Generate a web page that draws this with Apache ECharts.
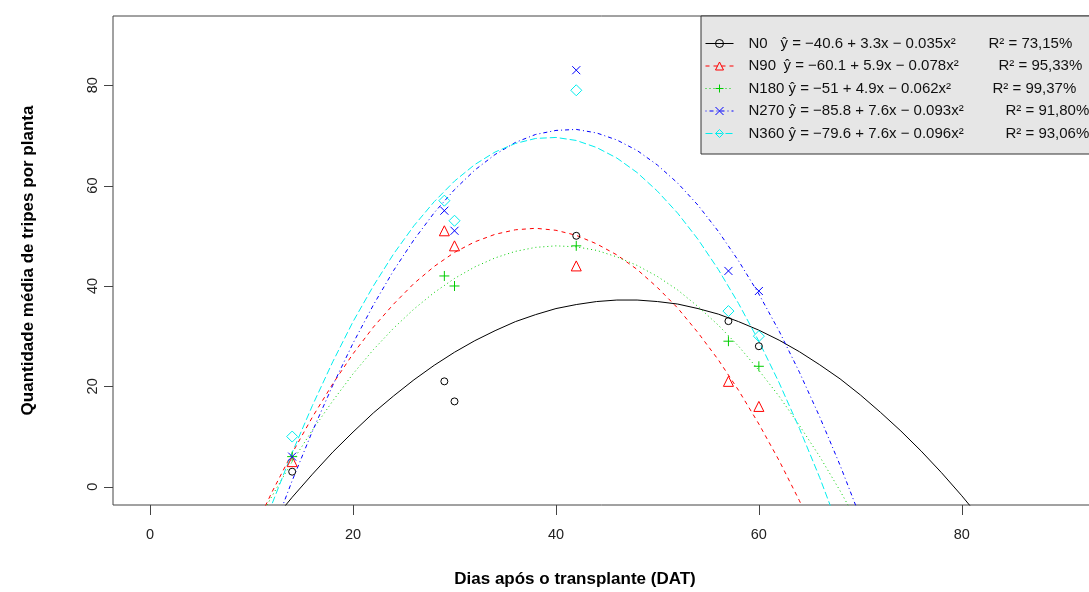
<!DOCTYPE html>
<html><head><meta charset="utf-8">
<script src="https://cdn.jsdelivr.net/npm/echarts@6/dist/echarts.min.js"></script>
<style>html,body{margin:0;padding:0;background:#fff}#c{width:1089px;height:592px}</style>
</head><body><div id="c"></div>
<script>
// ---- data ----
const seriesNames = ['N0', 'N90', 'N180', 'N270', 'N360'];
const obsX = [14, 29, 30, 42, 57, 60];
const obsN0   = [3, 21, 17, 50, 33, 28];
const obsN90  = [5, 51, 48, 44, 21, 16];
const obsN180 = [6, 42, 40, 48, 29, 24];
const obsN270 = [6, 55, 51, 83, 43, 39];
const obsN360 = [10, 57, 53, 79, 35, 30];

const fitX = [10,12,14,16,18,20,22,24,26,28,30,32,34,36,38,40,42,44,46,48,50,52,54,56,58,60,62,64,66,68,70,72,74,76,78,80,82];
const fitN0   = ['-',-7.0,-2.1,2.5,6.9,10.9,14.7,18.1,21.3,24.2,26.8,29.1,31.1,32.9,34.3,35.5,36.3,36.9,37.2,37.2,36.9,36.4,35.5,34.4,32.9,31.2,29.2,26.9,24.3,21.5,18.3,14.8,11.1,7.1,2.8,-1.8,-6.7];
const fitN90  = [-9.6,-1.1,6.7,13.9,20.5,26.5,31.8,36.4,40.5,43.9,46.7,48.8,50.3,51.2,51.5,51.1,50.1,48.4,46.2,43.3,39.7,35.6,30.7,25.3,19.2,12.5,5.2,-2.8,-11.4,'-','-','-','-','-','-','-','-'];
const fitN180 = [-9.2,-1.9,5.0,11.3,17.1,22.5,27.3,31.6,35.4,38.7,41.5,43.8,45.6,46.9,47.7,48.0,47.8,47.1,45.8,44.1,41.9,39.2,35.9,32.2,28.0,23.2,18.0,12.2,6.0,-0.8,-8.1,'-','-','-','-','-','-'];
const fitN270 = ['-',-9.4,1.2,11.1,20.2,28.6,36.2,43.1,49.2,54.6,59.2,63.1,66.2,68.6,70.2,71.0,71.2,70.5,69.1,67.0,64.1,60.5,56.1,50.9,45.0,38.4,31.0,22.8,13.9,4.3,-6.1,'-','-','-','-','-','-'];
const fitN360 = [-14.5,-3.5,6.8,16.2,24.9,32.9,40.0,46.4,52.0,56.8,60.9,64.2,66.7,68.4,69.4,69.6,69.0,67.6,65.5,62.6,58.9,54.5,49.3,43.3,36.5,29.0,20.7,11.6,1.8,-8.9,'-','-','-','-','-','-','-'];

const equations = [
  'ŷ = −40.6 + 3.3x − 0.035x²',
  'ŷ = −60.1 + 5.9x − 0.078x²',
  'ŷ = −51 + 4.9x − 0.062x²',
  'ŷ = −85.8 + 7.6x − 0.093x²',
  'ŷ = −79.6 + 7.6x − 0.096x²'
];
const r2Labels = ['R² = 73,15%', 'R² = 95,33%', 'R² = 99,37%', 'R² = 91,80%', 'R² = 93,06%'];
const xTicks = [0, 20, 40, 60, 80];
const yTicks = [0, 20, 40, 60, 80];
const xTitle = 'Dias após o transplante (DAT)';
const yTitle = 'Quantidade média de tripes por planta';

// ---- styles ----
const FONT = '"Liberation Sans", Arial, sans-serif';
const X_MIN = -3.66, X_MAX = 95.2, Y_MIN = -3.64, Y_MAX = 93.8;
const colors = ['#000000', '#ff0000', '#00cd00', '#0000ff', '#00eeee'];
const dashes = ['solid', [4, 4], [1, 3], [1, 3, 4, 3], [7, 3]];
const symbols = ['circle', 'triangle', 'path://M5,0L5,10M0,5L10,5', 'path://M0,0L10,10M0,10L10,0', 'diamond'];
const openFill = [true, true, false, false, true];
const symSizes = [7, 10, 10, 8, 11];
const nameW = [32, 35, 40, 40, 40];
const eqW = [208, 215, 204, 217, 217];

const obsAll = [obsN0, obsN90, obsN180, obsN270, obsN360];
const fitAll = [fitN0, fitN90, fitN180, fitN270, fitN360];

const series = [];
seriesNames.forEach((nm, i) => {
  const fill = openFill[i] ? 'transparent' : colors[i];
  series.push({
    name: nm, type: 'line',
    data: fitX.map((x, k) => [x, fitAll[i][k]]),
    showSymbol: false, symbol: symbols[i], symbolSize: symSizes[i],
    itemStyle: { color: fill, borderColor: colors[i], borderWidth: 1 },
    lineStyle: { color: colors[i], width: 1, type: dashes[i] },
    connectNulls: false, clip: true, silent: true, z: 3
  });
  series.push({
    name: nm + ' obs', type: 'scatter',
    data: obsX.map((x, k) => [x, obsAll[i][k]]),
    symbol: symbols[i], symbolSize: symSizes[i],
    itemStyle: { color: fill, borderColor: colors[i], borderWidth: 1, opacity: 1 },
    silent: true, z: 4
  });
});

// axis tick marks outside the plot box, placed through the library's coordinate system
series.push({
  name: 'xticks', type: 'custom', clip: false, silent: true, z: 5,
  data: xTicks.map(v => [v, Y_MIN]),
  renderItem: function (params, api) {
    const p = api.coord([api.value(0), Y_MIN]);
    const x = Math.round(p[0]) + 0.5;
    return { type: 'line', shape: { x1: x, y1: p[1], x2: x, y2: p[1] + 10 }, style: { stroke: '#444', lineWidth: 1 } };
  }
});
series.push({
  name: 'yticks', type: 'custom', clip: false, silent: true, z: 5,
  data: yTicks.map(v => [X_MIN, v]),
  renderItem: function (params, api) {
    const p = api.coord([X_MIN, api.value(1)]);
    const y = Math.round(p[1]) + 0.5;
    return { type: 'line', shape: { x1: p[0], y1: y, x2: p[0] - 9, y2: y }, style: { stroke: '#444', lineWidth: 1 } };
  }
});

const rich = { s: { width: 10 } };
seriesNames.forEach((nm, i) => {
  rich['n' + i] = { width: nameW[i], fontSize: 15, fontFamily: FONT, color: '#111' };
  rich['e' + i] = { width: eqW[i], fontSize: 15, fontFamily: FONT, color: '#111' };
  rich['r' + i] = { width: 100, fontSize: 15, fontFamily: FONT, color: '#111' };
});

const chart = echarts.init(document.getElementById('c'), null, { renderer: 'canvas' });
chart.setOption({
  animation: false,
  backgroundColor: '#ffffff',
  grid: { left: 113, top: 16, width: 1003, height: 489, outerBoundsMode: 'none', containLabel: false,
          show: true, borderColor: '#444', borderWidth: 1, backgroundColor: 'transparent' },
  xAxis: {
    type: 'value', min: X_MIN, max: X_MAX,
    axisLine: { show: false, onZero: false },
    axisTick: { show: false },
    axisLabel: { customValues: xTicks, margin: 22, fontSize: 14.5, fontFamily: FONT, color: '#222' },
    splitLine: { show: false },
    name: xTitle, nameLocation: 'middle', nameGap: 66,
    nameTextStyle: { fontSize: 17, fontWeight: 'bold', fontFamily: FONT, color: '#000', padding: [0, 79, 0, 0] }
  },
  yAxis: {
    type: 'value', min: Y_MIN, max: Y_MAX,
    axisLine: { show: false, onZero: false },
    axisTick: { show: false },
    axisLabel: { customValues: yTicks, rotate: 90, margin: 13, fontSize: 14.5, fontFamily: FONT, color: '#222' },
    splitLine: { show: false },
    name: yTitle, nameLocation: 'middle', nameGap: 76, nameRotate: 90,
    nameTextStyle: { fontSize: 17, fontWeight: 'bold', fontFamily: FONT, color: '#000' }
  },
  legend: {
    data: seriesNames,
    orient: 'vertical', left: 701, top: 16,
    padding: [20, 30, 13, 4],
    itemWidth: 28, itemHeight: 10, itemGap: 7.5,
    backgroundColor: '#e6e6e6', borderColor: '#333', borderWidth: 1,
    selectedMode: false,
    lineStyle: { width: 1 },
    itemStyle: { borderWidth: 1 },
    formatter: function (name) {
      const i = seriesNames.indexOf(name);
      return '{s| }{n' + i + '|' + name + '}{e' + i + '|' + equations[i] + '}{r' + i + '|' + r2Labels[i] + '}';
    },
    textStyle: { rich: rich, fontSize: 15, fontFamily: FONT, color: '#111' }
  },
  series: series
});
</script>
</body></html>
